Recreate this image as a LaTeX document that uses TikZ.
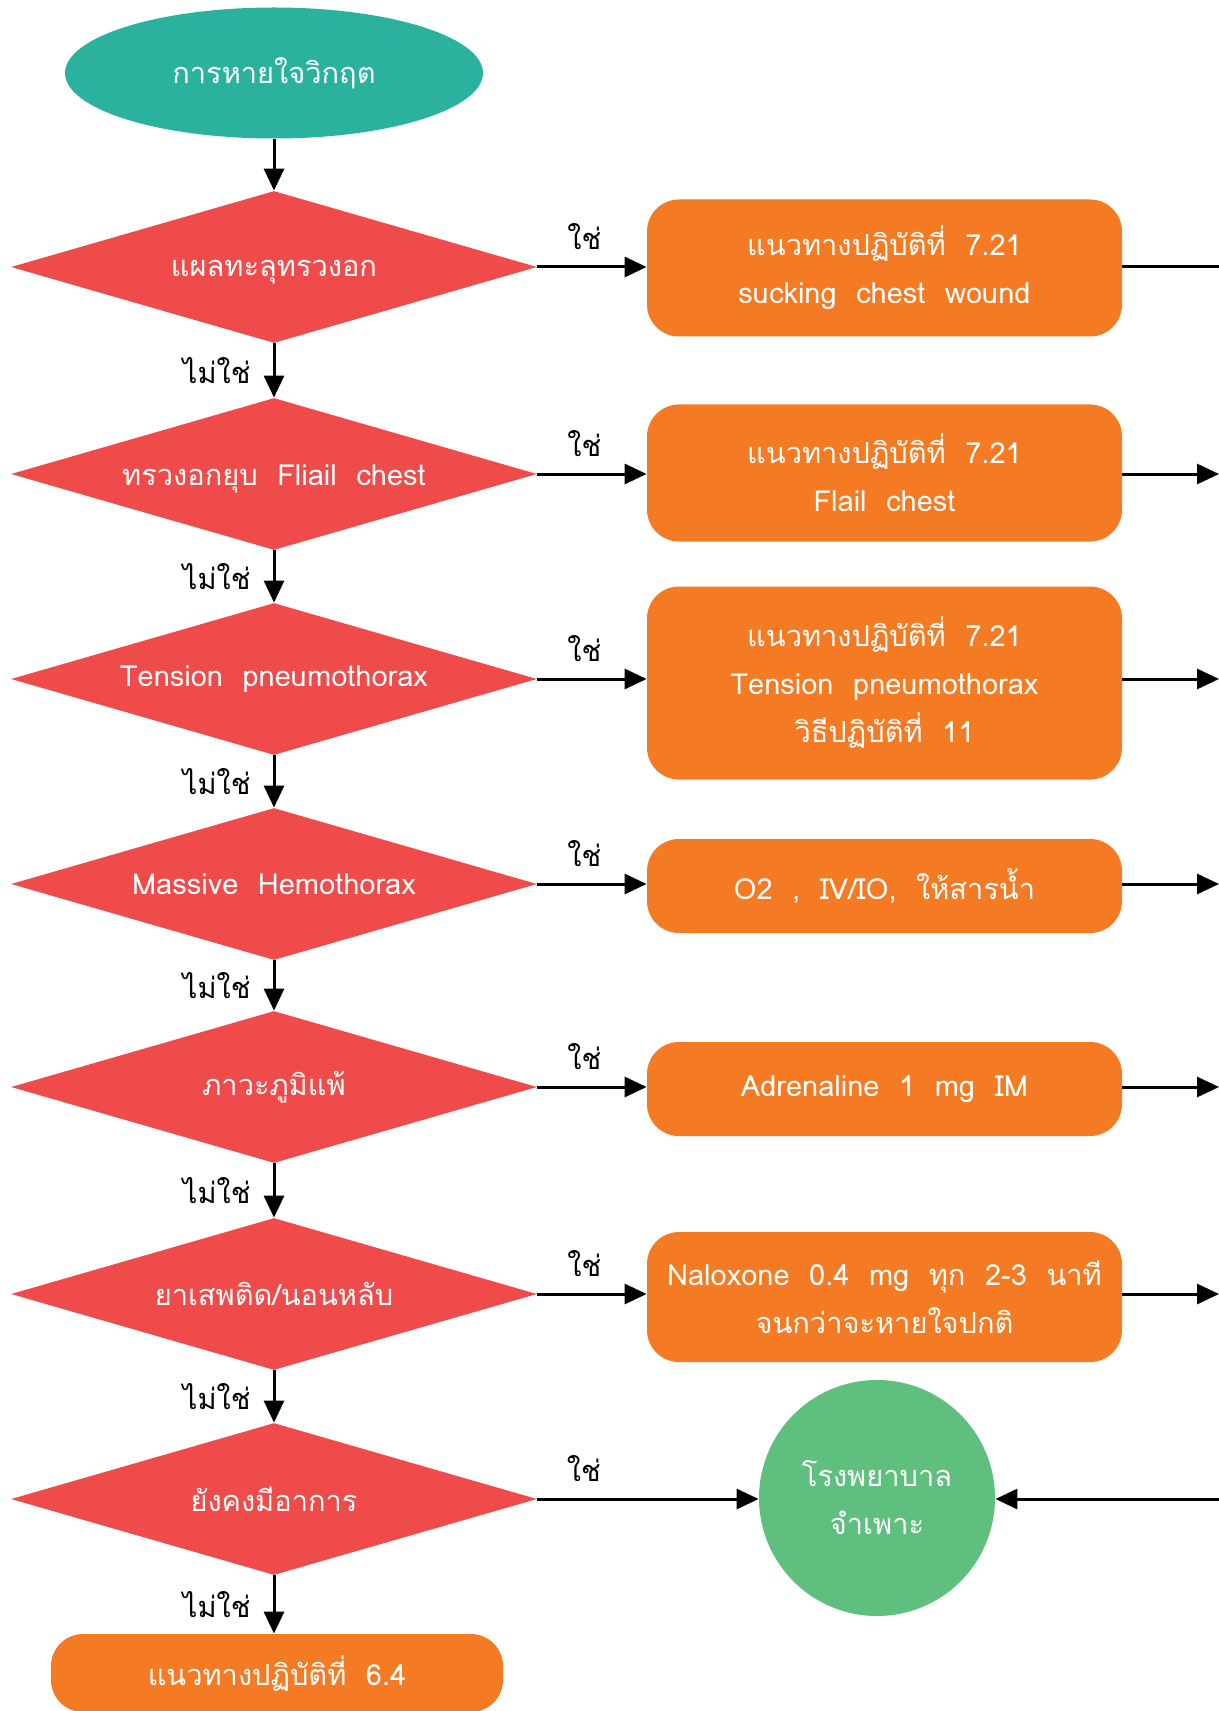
\documentclass[tikz,border=0pt]{standalone}
\usepackage{fontspec}
\setmainfont[Script=Thai, WordSpace=2]{Loma}
\usetikzlibrary{shapes.geometric,arrows.meta}

\definecolor{startteal}{RGB}{42,178,159}
\definecolor{askred}{RGB}{239,75,74}
\definecolor{doorange}{RGB}{244,123,35}
\definecolor{endgreen}{RGB}{94,191,127}

\newcommand\boxfont{\fontsize{14.5}{24}\selectfont}
\newcommand\zw[1]{\makebox[0pt]{#1}}
\newcommand\zwlow[1]{\makebox[0pt]{\raisebox{-2.5pt}[\height][\depth]{#1}}}

\begin{document}
\begin{tikzpicture}[x=0.5pt,y=-0.5pt,
  startnode/.style={ellipse, fill=startteal, minimum width=209pt, minimum height=65.5pt,
    inner sep=0pt, text=white, font=\boxfont},
  askbox/.style={diamond, fill=askred, minimum width=263pt, minimum height=76pt,
    inner sep=0pt, text=white, font=\boxfont},
  dobox/.style={rectangle, rounded corners=16pt, fill=doorange, minimum width=237.5pt,
    inner sep=0pt, text=white, align=center, font=\boxfont},
  endnode/.style={circle, fill=endgreen, minimum size=118pt, inner sep=0pt,
    text=white, align=center, font=\boxfont},
  flow/.style={line width=1.5pt, -{Triangle[length=11pt,width=10pt]}},
  plain/.style={line width=1.5pt},
  yes/.style={font=\boxfont, text=black, above, inner sep=3pt, yshift=5pt, pos=0.43},
  no/.style={font=\boxfont, text=black, left, inner sep=3pt, xshift=-8pt},
]
\useasboundingbox (0,0) rectangle (1219,1711);

% start
\node[startnode] (s) at (274,73) {\zw{การหายใจวิกฤต}};

% questions down the left column
\node[askbox] (d1) at (274,267)  {\zwlow{แผลทะลุทรวงอก}};
\node[askbox] (d2) at (274,474)  {\zwlow{ทรวงอกยุบ Fliail chest}};
\node[askbox] (d3) at (274,679)  {\zw{Tension pneumothorax}};
\node[askbox] (d4) at (274,884)  {\zw{Massive Hemothorax}};
\node[askbox] (d5) at (274,1087) {\zw{ภาวะภูมิแพ้}};
\node[askbox] (d6) at (274,1294) {\zw{ยาเสพติด/นอนหลับ}};
\node[askbox] (d7) at (274,1499) {\zw{ยังคงมีอาการ}};

% actions on the right
\node[dobox, minimum height=68.5pt] (b1) at (884.5,268)  {แนวทางปฏิบัติที่ 7.21\\sucking chest wound};
\node[dobox, minimum height=68.5pt] (b2) at (884.5,473)  {แนวทางปฏิบัติที่ 7.21\\Flail chest};
\node[dobox, minimum height=96.5pt] (b3) at (884.5,683)  {แนวทางปฏิบัติที่ 7.21\\Tension pneumothorax\\วิธีปฏิบัติที่ 11};
\node[dobox, minimum height=47pt]   (b4) at (884.5,886)  {O2 , IV/IO, ให้สารน้ำ};
\node[dobox, minimum height=47pt]   (b5) at (884.5,1089) {Adrenaline 1 mg IM};
\node[dobox, minimum height=65pt]   (b6) at (884.5,1297) {Naloxone 0.4 mg ทุก 2-3 นาที\\จนกว่าจะหายใจปกติ};

% hospital and last step
\node[endnode] (h) at (877,1498) {โรงพยาบาล\\จำเพาะ};
\node[dobox, minimum width=226pt, minimum height=39pt] (f) at (277,1673) {แนวทางปฏิบัติที่ 6.4};

% loose ends at the right margin
\coordinate (e1) at (1219,267);
\coordinate (e2) at (1219,474);
\coordinate (e3) at (1219,679);
\coordinate (e4) at (1219,884);
\coordinate (e5) at (1219,1087);
\coordinate (e6) at (1219,1294);
\coordinate (e7) at (1219,1499);

% main column
\draw[flow] (s.south) -- (d1.north);
\draw[flow] (d1.south) -- node[no] {ไม่ใช่} (d2.north);
\draw[flow] (d2.south) -- node[no] {ไม่ใช่} (d3.north);
\draw[flow] (d3.south) -- node[no] {ไม่ใช่} (d4.north);
\draw[flow] (d4.south) -- node[no] {ไม่ใช่} (d5.north);
\draw[flow] (d5.south) -- node[no] {ไม่ใช่} (d6.north);
\draw[flow] (d6.south) -- node[no] {ไม่ใช่} (d7.north);
\draw[flow] (d7.south) -- node[no] {ไม่ใช่} (d7.south |- f.north);

% yes branches
\draw[flow] (d1.east) -- node[yes] {ใช่} (d1.east -| b1.west);
\draw[flow] (d2.east) -- node[yes] {ใช่} (d2.east -| b2.west);
\draw[flow] (d3.east) -- node[yes] {ใช่} (d3.east -| b3.west);
\draw[flow] (d4.east) -- node[yes] {ใช่} (d4.east -| b4.west);
\draw[flow] (d5.east) -- node[yes] {ใช่} (d5.east -| b5.west);
\draw[flow] (d6.east) -- node[yes] {ใช่} (d6.east -| b6.west);
\draw[flow] (d7.east) -- node[yes, pos=0.21] {ใช่} (d7.east -| h.west);

% outgoing lines
\draw[plain] (b1.east |- e1) -- (e1);
\draw[flow] (b2.east |- e2) -- (e2);
\draw[flow] (b3.east |- e3) -- (e3);
\draw[flow] (b4.east |- e4) -- (e4);
\draw[flow] (b5.east |- e5) -- (e5);
\draw[flow] (b6.east |- e6) -- (e6);
\draw[flow] (e7) -- (e7 -| h.east);
\end{tikzpicture}
\end{document}
